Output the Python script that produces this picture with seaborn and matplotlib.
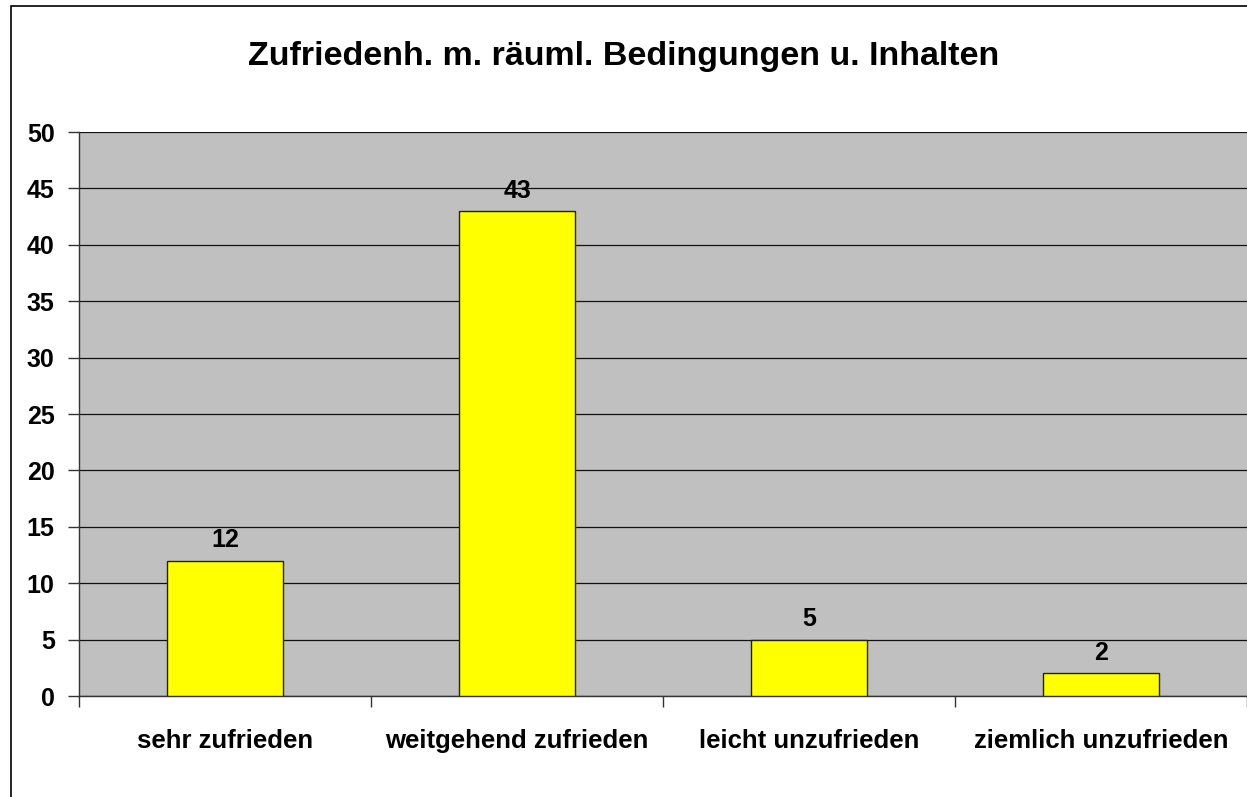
import numpy as np
import pandas as pd
import seaborn as sns
import matplotlib.pyplot as plt
from matplotlib.patches import Rectangle

# data
categories = ["sehr zufrieden", "weitgehend zufrieden", "leicht unzufrieden", "ziemlich unzufrieden"]
counts = [12, 43, 5, 2]
yticks = [0, 5, 10, 15, 20, 25, 30, 35, 40, 45, 50]

df = pd.DataFrame({"kategorie": categories, "anzahl": counts})

sns.set_theme(style="white")
plt.rcParams["font.family"] = ["Liberation Sans", "DejaVu Sans"]
plt.rcParams["font.weight"] = "bold"
plt.rcParams["text.color"] = "black"
plt.rcParams["xtick.labelcolor"] = "black"
plt.rcParams["ytick.labelcolor"] = "black"

fig = plt.figure(figsize=(12.47, 7.97), dpi=100)
ax = fig.add_axes([79 / 1247, 1 - 696 / 797, 1 - 79 / 1247, (696 - 132) / 797])
ax.set_facecolor("#c0c0c0")

sns.barplot(data=df, x="kategorie", y="anzahl", color="#ffff00", width=0.4,
            edgecolor="#222222", linewidth=1, saturation=1, ax=ax, zorder=3)

ax.set_ylim(0, 50)
ax.set_xlim(-0.5, len(categories) - 0.5)
ax.set_yticks(yticks)
ax.set_yticklabels([str(v) for v in yticks], fontsize=18, fontweight="bold")
ax.yaxis.grid(True, color="#111111", linewidth=0.9, zorder=1)
ax.set_axisbelow(True)
ax.tick_params(axis="y", length=8, width=1, color="#333333", pad=9.5, left=True)

# category labels centred, tick marks at boundaries
ax.set_xticks(range(len(categories)))
ax.set_xticklabels(categories, fontsize=18.5, fontweight="bold")
ax.tick_params(axis="x", which="major", length=0, pad=24)
ax.set_xticks(np.arange(-0.5, len(categories)), minor=True)
ax.tick_params(axis="x", which="minor", length=8, width=1, color="#333333", bottom=True)
ax.set_xlabel("")
ax.set_ylabel("")

for s in ["top", "right"]:
    ax.spines[s].set_visible(False)
for s in ["left", "bottom"]:
    ax.spines[s].set_color("#333333")
    ax.spines[s].set_linewidth(1)

# value labels
for i, v in enumerate(counts):
    ax.annotate(str(v), (i, v), xytext=(0, 9.5), textcoords="offset points",
                ha="center", va="baseline", fontsize=18, fontweight="bold")

fig.text(624 / 1247, 1 - 56 / 797, "Zufriedenh. m. räuml. Bedingungen u. Inhalten",
         ha="center", va="center", fontsize=24.5, fontweight="bold")

# outer chart border
fig.patches.append(Rectangle((11 / 1247, -0.1), 1.2, 1 - 6 / 797 + 0.1, transform=fig.transFigure,
                             fill=False, edgecolor="black", linewidth=1.2))

fig.savefig("out.png", dpi=100)
